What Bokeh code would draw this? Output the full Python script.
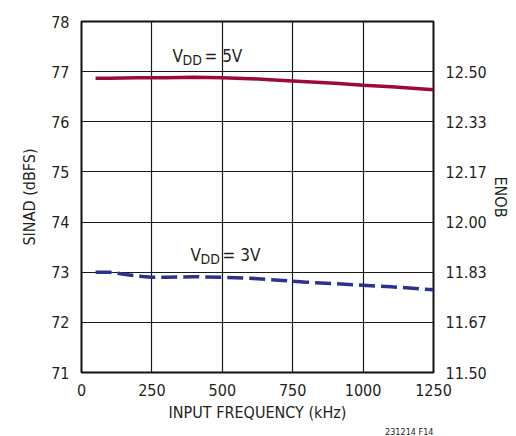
from bokeh.plotting import figure
from bokeh.models import LinearAxis, FixedTicker, Label, Title, Range1d
from bokeh.embed import file_html
from bokeh.resources import INLINE

# ---- data ----
freq_5v = [50, 100, 200, 300, 400, 500, 600, 700, 800, 900, 1000, 1100, 1200, 1250]
sinad_5v = [76.87, 76.87, 76.88, 76.88, 76.89, 76.88, 76.86, 76.83, 76.80, 76.77, 76.73, 76.70, 76.66, 76.64]

freq_3v = [50, 100, 150, 200, 250, 300, 400, 500, 600, 700, 800, 900, 1000, 1100, 1200, 1250]
sinad_3v = [73.00, 73.00, 72.96, 72.92, 72.90, 72.90, 72.91, 72.90, 72.88, 72.84, 72.80, 72.77, 72.74, 72.71, 72.67, 72.65]

x_ticks = [0, 250, 500, 750, 1000, 1250]
y_ticks = [71, 72, 73, 74, 75, 76, 77, 78]
enob_ticks = [71, 72, 73, 74, 75, 76, 77]
enob_labels = ["11.50", "11.67", "11.83", "12.00", "12.17", "12.33", "12.50"]

FONT = "DejaVu Sans Condensed"
TXT = "#231f20"

p = figure(width=516, height=436, output_backend="svg", toolbar_location=None,
           x_range=Range1d(0, 1250), y_range=Range1d(71, 78),
           min_border_left=81, min_border_right=83, min_border_top=21, min_border_bottom=10,
           x_axis_label="INPUT FREQUENCY (kHz)", y_axis_label="SINAD (dBFS)")
p.frame_width = 352

p.outline_line_color = "#111111"
p.outline_line_width = 2
p.outline_line_alpha = 1

p.xaxis.ticker = FixedTicker(ticks=x_ticks)
p.yaxis.ticker = FixedTicker(ticks=y_ticks)
p.xgrid.ticker = FixedTicker(ticks=x_ticks)
p.ygrid.ticker = FixedTicker(ticks=y_ticks)
for g in (p.xgrid, p.ygrid):
    g.grid_line_color = "#1a1a1a"
    g.grid_line_width = 1.2
    g.grid_line_alpha = 1

right = LinearAxis(ticker=FixedTicker(ticks=enob_ticks),
                   major_label_overrides={t: l for t, l in zip(enob_ticks, enob_labels)},
                   axis_label="ENOB")
p.add_layout(right, "right")

for ax in p.axis:
    ax.axis_line_color = None
    ax.major_tick_line_color = None
    ax.minor_tick_line_color = None
    ax.major_label_text_font = FONT
    ax.major_label_text_font_size = "16px"
    ax.major_label_text_color = TXT
    ax.axis_label_text_font = FONT
    ax.axis_label_text_font_size = "16px"
    ax.axis_label_text_font_style = "normal"
    ax.axis_label_text_color = TXT

p.yaxis[0].major_label_standoff = 6
p.yaxis[0].axis_label_standoff = 9
p.xaxis.major_label_standoff = 5
p.xaxis.axis_label_standoff = 4
right.major_label_standoff = 6
right.axis_label_standoff = 1

p.line(freq_5v, sinad_5v, line_color="#9b0a3c", line_width=3.5)
p.line(freq_3v, sinad_3v, line_color="#2e3192", line_width=3.5, line_dash="16 6")

def vdd_label(x, y, volts):
    p.add_layout(Label(x=x, y=y, text="V", text_font=FONT, text_font_size="17px",
                       text_color=TXT, text_baseline="alphabetic"))
    p.add_layout(Label(x=x, y=y, x_offset=10, y_offset=-4, text="DD", text_font=FONT,
                       text_font_size="14px", text_color=TXT, text_baseline="alphabetic"))
    p.add_layout(Label(x=x, y=y, x_offset=32, text="= " + volts, text_font=FONT,
                       text_font_size="17px", text_color=TXT, text_baseline="alphabetic"))

vdd_label(323, 77.32, "5V")
vdd_label(387, 73.34, "3V")

foot = Title(text="231214 F14", align="right", text_font=FONT, text_font_size="9px",
             text_font_style="normal", text_color=TXT, standoff=0)
p.add_layout(foot, "below")

open("out.html", "w").write(file_html(p, INLINE))
